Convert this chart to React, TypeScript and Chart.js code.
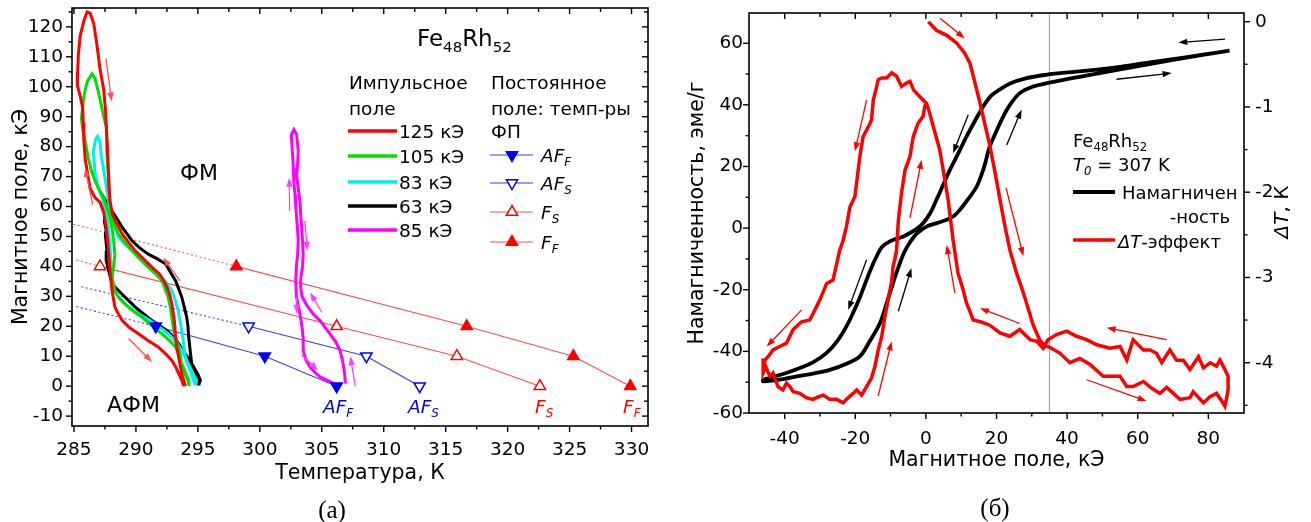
import React, { useEffect, useRef } from "react";
import { Chart, registerables } from "chart.js";

Chart.register(...registerables);

const SANS = "'DejaVu Sans', 'Liberation Sans', Arial, sans-serif";
const SERIF = "'Liberation Serif', 'Times New Roman', serif";

type P = [number, number];

// ================= Panel (a): magnetic field vs temperature =================
const TEMP_TICKS = [285, 290, 295, 300, 305, 310, 315, 320, 325, 330];
const TEMP_MINOR = [287.5, 292.5, 297.5, 302.5, 307.5, 312.5, 317.5, 322.5, 327.5];
const FIELD_A_TICKS = [-10, 0, 10, 20, 30, 40, 50, 60, 70, 80, 90, 100, 110, 120];
const FIELD_A_MINOR = [-5, 5, 15, 25, 35, 45, 55, 65, 75, 85, 95, 105, 115, 125];

// pulsed-field loops (T, H)
const PULSE_125: P[] = [
  [294.0, 0], [293.7, 4], [293.5, 8.6], [293.3, 13], [293.2, 16.4], [293.1, 22], [292.9, 27.5], [292.7, 31],
  [292.4, 34.1], [291.9, 37.5], [291.3, 39.7], [290.6, 42.5], [289.95, 45.2], [289.4, 48], [288.9, 50.8],
  [288.5, 54], [288.1, 57.4], [287.9, 62], [287.8, 70], [287.7, 80], [287.6, 87], [287.55, 92], [287.4, 99],
  [287.1, 106], [286.85, 114], [286.6, 121], [286.3, 124.6], [286.05, 125], [285.8, 122], [285.5, 117],
  [285.35, 110.6], [285.3, 105], [285.27, 100.5], [285.5, 97], [285.7, 93], [285.75, 88], [285.8, 82],
  [285.9, 76], [286.1, 71], [286.3, 66], [286.7, 63], [287.1, 61.5], [287.4, 58], [287.6, 53], [287.75, 47],
  [287.85, 42], [287.95, 37], [288.07, 32], [288.3, 26.4], [288.6, 24], [288.9, 21.9], [289.5, 19.5],
  [290.2, 17.5], [291.0, 15.2], [291.8, 13.1], [292.4, 10.8], [292.9, 8.6], [293.2, 6.5], [293.45, 4.2],
  [293.7, 2], [293.85, 0],
];
const PULSE_105: P[] = [
  [294.3, 0], [294.2, 2], [293.7, 6], [293.6, 10], [293.4, 13.5], [293.2, 16.4], [293.0, 20], [292.9, 23],
  [292.75, 27], [292.6, 29.7], [292.1, 35.2], [291.6, 37.5], [291.0, 39.7], [290.3, 42.5], [289.7, 45.2],
  [289.1, 48], [288.6, 50.8], [288.3, 53.5], [288.07, 56.3], [287.9, 61.8], [287.8, 66], [287.77, 70.7],
  [287.7, 75], [287.64, 78.5], [287.64, 86.2], [287.4, 90], [287.2, 94], [286.96, 98.4], [286.7, 102.8],
  [286.45, 104.3], [286.07, 101.7], [285.85, 98], [285.75, 95], [285.6, 89.5], [285.7, 86], [285.9, 81.8],
  [286.15, 76.2], [286.4, 72], [286.7, 68.5], [287.05, 65.5], [287.37, 63], [287.7, 59], [287.9, 56.3],
  [288.1, 52], [288.2, 48.5], [288.3, 44], [288.2, 40], [288.07, 36.3], [288.3, 31.9], [288.6, 29.7],
  [289.1, 27.5], [289.8, 25], [290.5, 23], [291.3, 20.2], [292.1, 17.5], [292.7, 15.3], [293.2, 13.1],
  [293.5, 10.3], [293.7, 7.5], [294.0, 4.5], [294.26, 2], [294.3, 0],
];
const PULSE_83: P[] = [
  [294.8, 0.3], [294.9, 2], [294.5, 5], [294.0, 9.7], [293.85, 14], [293.7, 18.6], [293.55, 22], [293.4, 25.3],
  [293.2, 28.5], [292.9, 31.9], [292.5, 34.3], [292.1, 36.3], [291.5, 38.8], [291.0, 40.8], [290.3, 43],
  [289.7, 45.2], [289.1, 47.5], [288.6, 49.6], [288.3, 53], [288.07, 56.3], [287.85, 60], [287.75, 63],
  [287.6, 67], [287.37, 72.9], [287.2, 77], [287.1, 81.8], [286.9, 83.4], [286.75, 82.5], [286.56, 78.5],
  [286.65, 74], [286.7, 70.8], [286.9, 67], [287.2, 63.5], [287.5, 60], [287.7, 55], [287.85, 50],
  [287.93, 45], [288.0, 40], [288.1, 35], [288.3, 31.5], [288.6, 29.7], [289.3, 27], [290.2, 24.2],
  [290.9, 22.5], [291.56, 20.8], [292.3, 18.5], [292.9, 16.4], [293.3, 14.3], [293.7, 12], [294.0, 9.5],
  [294.2, 7], [294.4, 5.3], [294.6, 2.5], [294.8, 0.3],
];
const PULSE_63: P[] = [
  [295.06, 0.3], [295.2, 2], [295.0, 4], [294.5, 7.5], [294.4, 11], [294.26, 16.4], [294.2, 20], [294.1, 23],
  [293.9, 26.5], [293.7, 29.7], [293.45, 32.5], [293.2, 35.2], [292.8, 38], [292.4, 40.8], [291.7, 42.6],
  [291.0, 44.1], [290.3, 46.2], [289.7, 48.5], [289.3, 50.8], [288.9, 53], [288.5, 55.7], [288.07, 58.5],
  [287.7, 61], [287.4, 63], [287.5, 60], [287.53, 58.5], [287.45, 55], [287.6, 52], [287.53, 50.8],
  [287.66, 45.2], [287.6, 42], [287.8, 38.6], [288.07, 34.1], [288.87, 30.8], [289.4, 28.6], [289.95, 26.4],
  [290.6, 24.2], [291.3, 21.9], [292.0, 20], [292.64, 18.1], [293.1, 16.2], [293.45, 14.2], [293.8, 11.8],
  [294.26, 9.2], [294.5, 7], [294.8, 4.8], [295.0, 2.5], [295.06, 0.3],
];
const PULSE_85: P[] = [
  [306.9, 0.9], [306.85, 4], [306.7, 8], [306.47, 12], [306.1, 15], [305.66, 17.5], [305.3, 19.5],
  [304.86, 21.9], [304.3, 24.2], [303.8, 27], [303.4, 30], [303.3, 33], [303.3, 36], [303.45, 40],
  [303.5, 44.1], [303.45, 48], [303.38, 53], [303.3, 57], [303.24, 61.8], [303.1, 66], [302.97, 70.7],
  [303.05, 74], [303.1, 78.5], [302.97, 84], [302.75, 85.7], [302.55, 84], [302.57, 81.8], [302.65, 77],
  [302.7, 72.9], [302.75, 68], [302.84, 64], [302.9, 60], [302.97, 56.3], [303.05, 52], [303.1, 48.5],
  [303.05, 44], [302.95, 40], [302.9, 35], [302.95, 30], [303.1, 27], [303.24, 24], [303.4, 20], [303.5, 16],
  [303.5, 12], [303.7, 9], [304.05, 6.4], [304.4, 4.8], [304.86, 3.1], [305.66, 1.5], [306.2, 0.5],
];

// static-field transition temperatures (T for each field H)
const AFF_T = [291.6, 300.4, 306.2];
const AFF_H = [20, 10, 0];
const AFS_T = [299.1, 308.6, 312.9];
const AFS_H = [20, 10, 0];
const FS_T = [287.1, 306.2, 315.9, 322.6];
const FS_H = [40, 20, 10, 0];
const FF_T = [298.1, 316.7, 325.3, 329.9];
const FF_H = [40, 20, 10, 0];
// dotted extrapolations
const AFF_EXT: P[] = [[285.2, 26.6], [291.6, 20]];
const AFS_EXT: P[] = [[285.6, 33.2], [299.1, 20]];
const FS_EXT: P[] = [[285.2, 42.1], [287.1, 40]];
const FF_EXT: P[] = [[284.95, 54.1], [298.1, 40]];

const RED = "#ff0000";
const GREEN = "#00e000";
const CYAN = "#00f0f0";
const MAGENTA = "#ff00ff";
const BLUE = "#0000ff";
const THIN_RED = "#ff5050";
const THIN_BLUE = "#3c3cff";

const PULSE_LABELS = ["125 кЭ", "105 кЭ", "83 кЭ", "63 кЭ", "85 кЭ"];
const PULSE_COLORS = [RED, GREEN, CYAN, "#000000", MAGENTA];

// arrows in data coordinates (T, H)
const ARROWS_A: { a: P; b: P; c: string }[] = [
  { a: [287.58, 109.5], b: [288.04, 95.1], c: THIN_RED },
  { a: [286.5, 60.7], b: [285.9, 72.9], c: THIN_RED },
  { a: [289.4, 15.9], b: [291.3, 8.1], c: THIN_RED },
  { a: [293.55, 35.2], b: [292.2, 43], c: THIN_RED },
  { a: [302.4, 58.5], b: [302.38, 69.6], c: "#ff40ff" },
  { a: [303.64, 55.2], b: [303.83, 45.2], c: "#ff40ff" },
  { a: [302.97, 29.7], b: [302.97, 24.2], c: "#ff40ff" },
  { a: [305.0, 24.7], b: [304.05, 31.3], c: "#ff40ff" },
  { a: [303.4, 10.3], b: [304.7, 5.3], c: "#ff40ff" },
  { a: [307.7, 0], b: [307.3, 10], c: "#ff40ff" },
];

// ================= Panel (б): magnetization and ΔT vs field =================
const H_TICKS = [-40, -20, 0, 20, 40, 60, 80];
const H_MINOR = [-30, -10, 10, 30, 50, 70];
const M_TICKS = [-60, -40, -20, 0, 20, 40, 60];
const M_MINOR = [-50, -30, -10, 10, 30, 50];
const DT_TICKS = [0, -1, -2, -3, -4];
const DT_MINOR = [-0.5, -1.5, -2.5, -3.5, -4.5];
const GUIDE_FIELD = 35;

const MAG_DOWN: P[] = [
  [86, 57.6], [78, 56.2], [70, 54.8], [62, 53.5], [55, 52.3], [45, 51], [38, 50.3], [33, 49.6], [28, 48.5],
  [24, 47], [21, 45], [18.5, 43], [16.2, 39.4], [14, 35], [11.5, 29.7], [9.2, 24.3], [6.8, 18.9], [4.8, 13.8],
  [3, 9.2], [1.2, 4.8], [-0.8, 1.6], [-3, -0.6], [-6.4, -2.7], [-10.2, -4.3], [-12.5, -6.2], [-14, -9.3],
  [-15.5, -13], [-16.8, -16.8], [-18.7, -22.5], [-20.5, -27.2], [-22.5, -31.9], [-25, -36.5], [-28.1, -40.5],
  [-32, -43.6], [-35.7, -45.4], [-40, -47.2], [-46.1, -49.3],
];
const MAG_UP: P[] = [
  [-46.1, -49.7], [-40, -48.9], [-36.6, -48.1], [-32, -47.2], [-27.2, -46], [-22.5, -44], [-18.7, -41.6],
  [-15.8, -36.5], [-13, -30.8], [-11, -24], [-9.3, -17.8], [-7.5, -11.8], [-6.2, -8], [-4.5, -4.6],
  [-2.6, -1.8], [0.2, 0.5], [3, 1.6], [5.9, 2.7], [8, 4], [9.6, 5.9], [12, 9.5], [14.4, 13.5], [16.4, 19.5],
  [18.1, 26.5], [20, 31.5], [21.9, 36.2], [24, 40.3], [26.6, 43.8], [30, 45.8], [35, 47.2], [45, 49.4],
  [55, 51.5], [70, 54.6], [86, 57.6],
];

// ΔT (K) along the field sweep 0 → 86 → 0 → -46 → 0 kOe
const DT_SWEEP_UP: P[] = [
  [0.7, 0.0], [3.0, -0.1], [5.9, -0.16], [8.7, -0.25], [11.0, -0.37], [12.5, -0.49], [13.8, -0.7],
  [15.3, -0.95], [16.7, -1.2], [18.1, -1.45], [19.5, -1.75], [21, -2.09], [22.4, -2.4], [23.8, -2.68],
  [25.7, -2.95], [27.6, -3.18], [28.5, -3.3], [30.4, -3.56], [32.3, -3.74], [33.6, -3.8], [35.1, -3.82],
  [38, -3.89], [40.8, -4.0], [43.6, -3.95], [46.5, -4.02], [50.2, -4.16], [55, -4.16], [56.9, -4.28],
  [58.7, -4.28], [61.6, -4.22], [64, -4.3], [66.3, -4.36], [68.2, -4.29], [72, -4.43], [74.8, -4.41],
  [75.7, -4.34], [78.6, -4.47], [80.5, -4.4], [82.3, -4.36], [83.8, -4.45], [84.7, -4.51], [85.6, -4.32],
  [85.6, -4.16],
];
const DT_SWEEP_DOWN: P[] = [
  [84.2, -4.04], [83.3, -3.97], [82.3, -4.04], [80.5, -4.0], [78.6, -4.06], [77.2, -3.93], [74.8, -4.08],
  [72.9, -3.97], [71, -3.97], [69.1, -3.85], [66.8, -4.0], [65.3, -3.89], [63.5, -3.85], [61.6, -3.85],
  [58.7, -3.73], [56.9, -3.97], [55, -3.81], [52.1, -3.83], [48.4, -3.79], [45.5, -3.73], [42.7, -3.69],
  [39.9, -3.63], [37, -3.67], [34.6, -3.73], [33.2, -3.83], [31.4, -3.75], [29.5, -3.73], [26.6, -3.61],
  [23.8, -3.69], [21, -3.65], [18.1, -3.56], [15.5, -3.52], [13.4, -3.5], [12.5, -3.4], [11.5, -3.3],
  [10.6, -3.15], [9.1, -2.95], [7.7, -2.56], [6.3, -2.09], [4.9, -1.74], [3.9, -1.5], [2.1, -1.23],
  [0.7, -1.02], [0.2, -0.96],
];
const DT_SWEEP_NEG: P[] = [
  [-1.7, -0.88], [-3.5, -0.8], [-4.5, -0.7], [-5.5, -0.72], [-6.9, -0.76], [-8.3, -0.64], [-9.7, -0.6],
  [-11.1, -0.66], [-12.5, -0.66], [-13.5, -0.68], [-14.4, -0.84], [-14.9, -0.92], [-15.4, -1.15],
  [-15.9, -1.2], [-17.8, -1.35], [-18.7, -1.58], [-19.5, -1.85], [-20.1, -2.05], [-21.5, -2.17],
  [-22.5, -2.4], [-23.4, -2.56], [-24.4, -2.68], [-26.3, -3.03], [-28.1, -3.07], [-30, -3.26],
  [-31.9, -3.42], [-32.9, -3.5], [-35.2, -3.52], [-37.6, -3.61], [-39.5, -3.77], [-41.4, -3.81],
  [-43.3, -3.85], [-44.7, -3.93], [-45.6, -3.97], [-45.8, -4.1], [-45.9, -3.95], [-46.1, -4.12],
];
const DT_SWEEP_BACK: P[] = [
  [-45.3, -4.05], [-44.2, -4.16], [-43.3, -4.12], [-41.9, -4.28], [-40.5, -4.32], [-39.5, -4.24],
  [-38.5, -4.28], [-37.6, -4.34], [-35.7, -4.36], [-33.9, -4.41], [-32, -4.43], [-30.5, -4.4],
  [-29.1, -4.38], [-27.2, -4.43], [-25.3, -4.43], [-23.4, -4.47], [-22.5, -4.43], [-20.6, -4.36],
  [-19.6, -4.32], [-18.2, -4.38], [-16.8, -4.28], [-15.4, -4.18], [-14.4, -4.04], [-13.5, -3.85],
  [-12.5, -3.69], [-11.6, -3.46], [-10.7, -3.26], [-9.7, -3.05], [-9.3, -2.87], [-8.8, -2.79],
  [-8.3, -2.68], [-7.8, -2.33], [-6.9, -2.01], [-5.9, -1.74], [-4.5, -1.58], [-3.6, -1.35], [-2.2, -1.19],
  [-0.8, -1.11], [-0.3, -0.99], [0.2, -0.96],
];

const ARROWS_M: { a: P; b: P }[] = [
  { a: [84.7, 61.3], b: [71.5, 60.2] },
  { a: [54, 48.3], b: [69.6, 50.3] },
  { a: [22.9, 27], b: [27.1, 38.4] },
  { a: [12, 36.8], b: [7.7, 24.3] },
  { a: [-16.8, -10.3], b: [-22, -26.5] },
  { a: [-7.8, -27], b: [-4.1, -13] },
];
const ARROWS_DT: { a: P; b: P }[] = [
  { a: [4, 0.04], b: [11, -0.195] },
  { a: [22.7, -1.95], b: [27.6, -2.75] },
  { a: [45.5, -4.2], b: [62.5, -4.45] },
  { a: [68.2, -3.73], b: [51.2, -3.59] },
  { a: [26.6, -3.54], b: [15.3, -3.36] },
  { a: [8.2, -3.18], b: [5.9, -2.62] },
  { a: [-4.5, -2.3], b: [-1.2, -1.62] },
  { a: [-13.5, -4.39], b: [-9.7, -3.75] },
  { a: [-16.8, -0.92], b: [-20.1, -1.52] },
  { a: [-35.2, -3.38], b: [-45.1, -3.81] },
];

// ================= helpers =================
type Seg = { t: string; i?: boolean; s?: boolean };

function richWidth(ctx: CanvasRenderingContext2D, segs: Seg[], size: number, family = SANS) {
  let w = 0;
  for (const g of segs) {
    ctx.font = `${g.i ? "italic " : ""}${g.s ? size * 0.65 : size}px ${family}`;
    w += ctx.measureText(g.t).width;
  }
  return w;
}

function rich(
  ctx: CanvasRenderingContext2D, x: number, baseline: number, segs: Seg[], size: number,
  color = "#000", align: "left" | "center" | "right" = "left", family = SANS,
) {
  const w = richWidth(ctx, segs, size, family);
  let cx = align === "left" ? x : align === "center" ? x - w / 2 : x - w;
  ctx.save();
  ctx.fillStyle = color;
  ctx.textAlign = "left";
  ctx.textBaseline = "alphabetic";
  for (const g of segs) {
    ctx.font = `${g.i ? "italic " : ""}${g.s ? size * 0.65 : size}px ${family}`;
    ctx.fillText(g.t, cx, g.s ? baseline + size * 0.24 : baseline);
    cx += ctx.measureText(g.t).width;
  }
  ctx.restore();
}

function arrow(ctx: CanvasRenderingContext2D, x1: number, y1: number, x2: number, y2: number, color: string) {
  const ang = Math.atan2(y2 - y1, x2 - x1);
  const hl = 9, hw = 3.2;
  const c = Math.cos(ang), s = Math.sin(ang);
  ctx.save();
  ctx.strokeStyle = color;
  ctx.fillStyle = color;
  ctx.lineWidth = 1.3;
  ctx.beginPath();
  ctx.moveTo(x1, y1);
  ctx.lineTo(x2 - c * hl * 0.7, y2 - s * hl * 0.7);
  ctx.stroke();
  ctx.beginPath();
  ctx.moveTo(x2, y2);
  ctx.lineTo(x2 - hl * c + hw * s, y2 - hl * s - hw * c);
  ctx.lineTo(x2 - hl * c - hw * s, y2 - hl * s + hw * c);
  ctx.closePath();
  ctx.fill();
  ctx.restore();
}

function tri(ctx: CanvasRenderingContext2D, x: number, y: number, r: number, down: boolean, fill: string, stroke: string) {
  let rad = down ? Math.PI : 0;
  ctx.save();
  ctx.beginPath();
  for (let k = 0; k < 3; k++) {
    const px = x + Math.sin(rad) * r;
    const py = y - Math.cos(rad) * r;
    if (k === 0) ctx.moveTo(px, py);
    else ctx.lineTo(px, py);
    rad += (2 * Math.PI) / 3;
  }
  ctx.closePath();
  ctx.fillStyle = fill;
  ctx.fill();
  ctx.strokeStyle = stroke;
  ctx.lineWidth = 1.5;
  ctx.stroke();
  ctx.restore();
}

type TickSpec = { id: string; side: "top" | "bottom" | "left" | "right"; values: number[]; len: number; inward: boolean };

function drawFrameAndTicks(chart: any, specs: TickSpec[]) {
  const { ctx, chartArea: a } = chart;
  ctx.save();
  ctx.strokeStyle = "#000";
  ctx.lineWidth = 1.6;
  ctx.strokeRect(a.left, a.top, a.right - a.left, a.bottom - a.top);
  ctx.lineWidth = 1.4;
  for (const sp of specs) {
    const sc = chart.scales[sp.id];
    for (const v of sp.values) {
      const p = sc.getPixelForValue(v);
      ctx.beginPath();
      if (sp.side === "bottom") {
        ctx.moveTo(p, a.bottom);
        ctx.lineTo(p, a.bottom + (sp.inward ? -sp.len : sp.len));
      } else if (sp.side === "top") {
        ctx.moveTo(p, a.top);
        ctx.lineTo(p, a.top + (sp.inward ? sp.len : -sp.len));
      } else if (sp.side === "left") {
        ctx.moveTo(a.left, p);
        ctx.lineTo(a.left + (sp.inward ? sp.len : -sp.len), p);
      } else {
        ctx.moveTo(a.right, p);
        ctx.lineTo(a.right + (sp.inward ? -sp.len : sp.len), p);
      }
      ctx.stroke();
    }
  }
  ctx.restore();
}

const pts = (arr: P[]) => arr.map(([x, y]) => ({ x, y }));
const zipPts = (xs: number[], ys: number[]) => xs.map((x, i) => ({ x, y: ys[i] }));

const whiteBg = {
  id: "whiteBg",
  beforeDraw(chart: any) {
    const { ctx, width, height } = chart;
    ctx.save();
    ctx.fillStyle = "#fff";
    ctx.fillRect(0, 0, width, height);
    ctx.restore();
  },
};

const tickFont = { family: SANS, size: 18.5 };
const titleFont = { family: SANS, size: 20.5 };

function fixedAxis(size: number, horizontal: boolean) {
  return (s: any) => {
    if (horizontal) s.height = size;
    else s.width = size;
    s.paddingLeft = 0;
    s.paddingRight = 0;
    s.paddingTop = 0;
    s.paddingBottom = 0;
  };
}
const setTicks = (vals: number[]) => (s: any) => {
  s.ticks = vals.map((v) => ({ value: v }));
};

// ================= Panel (a) chart =================
function makeLeft(canvas: HTMLCanvasElement) {
  const loop = (data: P[], color: string) => ({
    data: pts(data), showLine: true, borderColor: color, borderWidth: 3, pointRadius: 0, order: 1, tension: 0,
  });
  const thin = (data: any[], color: string, dotted: boolean) => ({
    data, showLine: true, borderColor: color, borderWidth: 1.1, pointRadius: 0, order: 2,
    borderDash: dotted ? [2, 2.5] : [],
  });
  const marks = (data: any[], color: string, filled: boolean, down: boolean) => ({
    data, showLine: false, pointStyle: "triangle", pointRotation: down ? 180 : 0, pointRadius: 6.5,
    pointBackgroundColor: filled ? color : "#fff", pointBorderColor: color, pointBorderWidth: 1.5, order: 0,
  });

  const decor = {
    id: "decorA",
    afterDraw(chart: any) {
      const { ctx } = chart;
      const xs = chart.scales.x, ys = chart.scales.y;
      drawFrameAndTicks(chart, [
        { id: "x", side: "bottom", values: TEMP_TICKS, len: 6, inward: false },
        { id: "x", side: "bottom", values: TEMP_MINOR, len: 3.5, inward: false },
        { id: "x", side: "top", values: TEMP_TICKS, len: 6, inward: true },
        { id: "x", side: "top", values: TEMP_MINOR, len: 4, inward: true },
        { id: "y", side: "left", values: FIELD_A_TICKS, len: 6, inward: false },
        { id: "y", side: "left", values: FIELD_A_MINOR, len: 3.5, inward: false },
        { id: "y", side: "right", values: FIELD_A_TICKS, len: 6, inward: true },
        { id: "y", side: "right", values: FIELD_A_MINOR, len: 4, inward: true },
      ]);
      for (const ar of ARROWS_A) {
        arrow(ctx, xs.getPixelForValue(ar.a[0]), ys.getPixelForValue(ar.a[1]),
          xs.getPixelForValue(ar.b[0]), ys.getPixelForValue(ar.b[1]), ar.c);
      }
      // title of composition
      rich(ctx, 417, 46, [{ t: "Fe" }, { t: "48", s: true }, { t: "Rh" }, { t: "52", s: true }], 23);
      // pulsed-field legend
      rich(ctx, 349, 89, [{ t: "Импульсное" }], 18.5);
      rich(ctx, 349, 115, [{ t: "поле" }], 18.5);
      const ly = [131, 156, 182, 206, 230];
      PULSE_LABELS.forEach((lab, i) => {
        ctx.save();
        ctx.strokeStyle = PULSE_COLORS[i];
        ctx.lineWidth = 3.5;
        ctx.beginPath();
        ctx.moveTo(348, ly[i]);
        ctx.lineTo(397, ly[i]);
        ctx.stroke();
        ctx.restore();
        rich(ctx, 399, ly[i] + 6.5, [{ t: lab }], 18.5);
      });
      // static-field legend
      rich(ctx, 491, 89, [{ t: "Постоянное" }], 18.5);
      rich(ctx, 491, 115, [{ t: "поле: темп-ры" }], 18.5);
      rich(ctx, 491, 138, [{ t: "ФП" }], 18.5);
      const my = [155, 183, 212, 242];
      const mleg = [
        { c: THIN_BLUE, mc: BLUE, fill: true, down: true, segs: [{ t: "AF", i: true }, { t: "F", i: true, s: true }] },
        { c: THIN_BLUE, mc: BLUE, fill: false, down: true, segs: [{ t: "AF", i: true }, { t: "S", i: true, s: true }] },
        { c: THIN_RED, mc: RED, fill: false, down: false, segs: [{ t: "F", i: true }, { t: "S", i: true, s: true }] },
        { c: THIN_RED, mc: RED, fill: true, down: false, segs: [{ t: "F", i: true }, { t: "F", i: true, s: true }] },
      ];
      mleg.forEach((m, i) => {
        ctx.save();
        ctx.strokeStyle = m.c;
        ctx.lineWidth = 1.1;
        ctx.beginPath();
        ctx.moveTo(490, my[i]);
        ctx.lineTo(533, my[i]);
        ctx.stroke();
        ctx.restore();
        tri(ctx, 512, my[i], 6.5, m.down, m.fill ? m.mc : "#fff", m.mc);
        rich(ctx, 541, my[i] + 7, m.segs as Seg[], 18.5);
      });
      // phase labels
      rich(ctx, 180, 180, [{ t: "ФМ" }], 22);
      rich(ctx, 107, 412, [{ t: "АФМ" }], 22);
      // transition labels
      rich(ctx, 323, 413, [{ t: "AF", i: true }, { t: "F", i: true, s: true }], 18.5, BLUE);
      rich(ctx, 408, 413, [{ t: "AF", i: true }, { t: "S", i: true, s: true }], 18.5, BLUE);
      rich(ctx, 535, 413, [{ t: "F", i: true }, { t: "S", i: true, s: true }], 18.5, RED);
      rich(ctx, 623, 413, [{ t: "F", i: true }, { t: "F", i: true, s: true }], 18.5, RED);
      // panel caption
      rich(ctx, 332, 518, [{ t: "(a)" }], 25, "#000", "center", SERIF);
    },
  };

  return new Chart(canvas, {
    type: "scatter",
    data: {
      datasets: [
        thin(pts(AFF_EXT), THIN_BLUE, true),
        thin(pts(AFS_EXT), THIN_BLUE, true),
        thin(pts(FS_EXT), THIN_RED, true),
        thin(pts(FF_EXT), THIN_RED, true),
        thin(zipPts(AFF_T, AFF_H), THIN_BLUE, false),
        thin(zipPts(AFS_T, AFS_H), THIN_BLUE, false),
        thin(zipPts(FS_T, FS_H), THIN_RED, false),
        thin(zipPts(FF_T, FF_H), THIN_RED, false),
        loop(PULSE_125, RED),
        loop(PULSE_105, GREEN),
        loop(PULSE_83, CYAN),
        loop(PULSE_63, "#000000"),
        loop(PULSE_85, MAGENTA),
        marks(zipPts(AFF_T, AFF_H), BLUE, true, true),
        marks(zipPts(AFS_T, AFS_H), BLUE, false, true),
        marks(zipPts(FS_T, FS_H), RED, false, false),
        marks(zipPts(FF_T, FF_H), RED, true, false),
      ] as any,
    },
    options: {
      animation: false,
      responsive: false,
      maintainAspectRatio: false,
      devicePixelRatio: 1,
      layout: { padding: { left: 0, top: 6, right: 12, bottom: 0 } },
      plugins: { legend: { display: false }, tooltip: { enabled: false } },
      scales: {
        x: {
          type: "linear", min: 284.84, max: 331.33,
          afterFit: fixedAxis(96, true), afterBuildTicks: setTicks(TEMP_TICKS),
          grid: { display: false, drawTicks: false }, border: { display: false },
          ticks: { padding: 13, font: tickFont, color: "#000", maxRotation: 0, autoSkip: false, callback: (v: any) => String(v) },
          title: { display: true, text: "Температура, К", font: titleFont, color: "#000", padding: { top: 0, bottom: 36 } },
        },
        y: {
          type: "linear", min: -13.3, max: 126.3,
          afterFit: fixedAxis(72, false), afterBuildTicks: setTicks(FIELD_A_TICKS),
          grid: { display: false, drawTicks: false }, border: { display: false },
          ticks: { padding: 9, font: tickFont, color: "#000", autoSkip: false, callback: (v: any) => String(v) },
          title: { display: true, text: "Магнитное поле, кЭ", font: titleFont, color: "#000", padding: { top: 9, bottom: 0 } },
        },
      },
    } as any,
    plugins: [whiteBg, decor],
  });
}

// ================= Panel (б) chart =================
function makeRight(canvas: HTMLCanvasElement) {
  const OFF = 660; // canvas offset on the page
  const decor = {
    id: "decorB",
    beforeDatasetsDraw(chart: any) {
      const { ctx, chartArea: a } = chart;
      const x = chart.scales.x.getPixelForValue(GUIDE_FIELD);
      ctx.save();
      ctx.strokeStyle = "#a8a8a8";
      ctx.lineWidth = 1.2;
      ctx.beginPath();
      ctx.moveTo(x, a.top);
      ctx.lineTo(x, a.bottom);
      ctx.stroke();
      ctx.restore();
    },
    afterDraw(chart: any) {
      const { ctx } = chart;
      const xs = chart.scales.x, ys = chart.scales.y, y2 = chart.scales.y2;
      drawFrameAndTicks(chart, [
        { id: "x", side: "bottom", values: H_TICKS, len: 6, inward: false },
        { id: "x", side: "bottom", values: H_MINOR, len: 3.5, inward: false },
        { id: "x", side: "top", values: H_TICKS, len: 6, inward: true },
        { id: "x", side: "top", values: H_MINOR, len: 4, inward: true },
        { id: "y", side: "left", values: M_TICKS, len: 6, inward: false },
        { id: "y", side: "left", values: M_MINOR, len: 3.5, inward: false },
        { id: "y2", side: "right", values: DT_TICKS, len: 6, inward: false },
        { id: "y2", side: "right", values: DT_MINOR, len: 3.5, inward: false },
      ]);
      for (const ar of ARROWS_M) {
        arrow(ctx, xs.getPixelForValue(ar.a[0]), ys.getPixelForValue(ar.a[1]),
          xs.getPixelForValue(ar.b[0]), ys.getPixelForValue(ar.b[1]), "#000");
      }
      for (const ar of ARROWS_DT) {
        arrow(ctx, xs.getPixelForValue(ar.a[0]), y2.getPixelForValue(ar.a[1]),
          xs.getPixelForValue(ar.b[0]), y2.getPixelForValue(ar.b[1]), RED);
      }
      // legend block
      const lx = 1073 - OFF;
      rich(ctx, lx, 147, [{ t: "Fe" }, { t: "48", s: true }, { t: "Rh" }, { t: "52", s: true }], 18);
      rich(ctx, lx, 171, [{ t: "T", i: true }, { t: "0", i: true, s: true }, { t: " = 307 K" }], 18);
      ctx.save();
      ctx.lineWidth = 4;
      ctx.strokeStyle = "#000";
      ctx.beginPath();
      ctx.moveTo(lx, 192);
      ctx.lineTo(1115 - OFF, 192);
      ctx.stroke();
      ctx.strokeStyle = RED;
      ctx.lineWidth = 3.5;
      ctx.beginPath();
      ctx.moveTo(lx, 240);
      ctx.lineTo(1115 - OFF, 240);
      ctx.stroke();
      ctx.restore();
      rich(ctx, 1122 - OFF, 198.5, [{ t: "Намагничен" }], 18);
      rich(ctx, 1230 - OFF, 223, [{ t: "-ность" }], 18, "#000", "right");
      rich(ctx, 1118 - OFF, 247.5, [{ t: "ΔT", i: true }, { t: "-эффект" }], 18);
      // right axis title (reads bottom-to-top)
      ctx.save();
      ctx.translate(1281 - OFF, 212);
      ctx.rotate(-Math.PI / 2);
      rich(ctx, 0, 7.3, [{ t: "ΔT", i: true }, { t: ", К" }], 20, "#000", "center");
      ctx.restore();
      // panel caption
      rich(ctx, 995 - OFF, 516, [{ t: "(б)" }], 25, "#000", "center", SERIF);
    },
  };

  return new Chart(canvas, {
    type: "scatter",
    data: {
      datasets: [
        {
          data: pts([...DT_SWEEP_UP, ...DT_SWEEP_DOWN, ...DT_SWEEP_NEG, ...DT_SWEEP_BACK]),
          yAxisID: "y2", showLine: true, borderColor: RED, borderWidth: 3.5, pointRadius: 0, order: 0,
        },
        {
          data: pts([...MAG_DOWN, ...MAG_UP]),
          yAxisID: "y", showLine: true, borderColor: "#000", borderWidth: 3.8, pointRadius: 0, order: 1,
          tension: 0.35,
        },
      ] as any,
    },
    options: {
      animation: false,
      responsive: false,
      maintainAspectRatio: false,
      devicePixelRatio: 1,
      layout: { padding: { left: 0, top: 13, right: 0, bottom: 0 } },
      plugins: { legend: { display: false }, tooltip: { enabled: false } },
      scales: {
        x: {
          type: "linear", min: -50.1, max: 90.1,
          afterFit: fixedAxis(109, true), afterBuildTicks: setTicks(H_TICKS),
          grid: { display: false, drawTicks: false }, border: { display: false },
          ticks: { padding: 15, font: tickFont, color: "#000", maxRotation: 0, autoSkip: false, callback: (v: any) => String(v) },
          title: { display: true, text: "Магнитное поле, кЭ", font: titleFont, color: "#000", padding: { top: 0, bottom: 49 } },
        },
        y: {
          type: "linear", position: "left", min: -60, max: 69.8,
          afterFit: fixedAxis(89, false), afterBuildTicks: setTicks(M_TICKS),
          grid: { display: false, drawTicks: false }, border: { display: false },
          ticks: { padding: 6, font: tickFont, color: "#000", autoSkip: false, callback: (v: any) => String(v) },
          title: { display: true, text: "Намагниченность, эме/г", font: titleFont, color: "#000", padding: { top: 25.5, bottom: 0 } },
        },
        y2: {
          type: "linear", position: "right", min: -4.59, max: 0.102,
          afterFit: fixedAxis(67, false), afterBuildTicks: setTicks(DT_TICKS),
          grid: { display: false, drawTicks: false }, border: { display: false },
          ticks: { padding: 11, font: tickFont, color: "#000", autoSkip: false, callback: (v: any) => String(v) },
        },
      },
    } as any,
    plugins: [whiteBg, decor],
  });
}

export default function App() {
  const leftRef = useRef<HTMLCanvasElement | null>(null);
  const rightRef = useRef<HTMLCanvasElement | null>(null);
  useEffect(() => {
    const a = leftRef.current ? makeLeft(leftRef.current) : null;
    const b = rightRef.current ? makeRight(rightRef.current) : null;
    return () => {
      a?.destroy();
      b?.destroy();
    };
  }, []);
  return (
    <div style={{ position: "fixed", left: 0, top: 0, width: 1311, height: 522, background: "#fff" }}>
      <canvas ref={leftRef} width={660} height={522}
        style={{ position: "absolute", left: 0, top: 0, width: 660, height: 522, display: "block" }} />
      <canvas ref={rightRef} width={651} height={522}
        style={{ position: "absolute", left: 660, top: 0, width: 651, height: 522, display: "block" }} />
    </div>
  );
}
